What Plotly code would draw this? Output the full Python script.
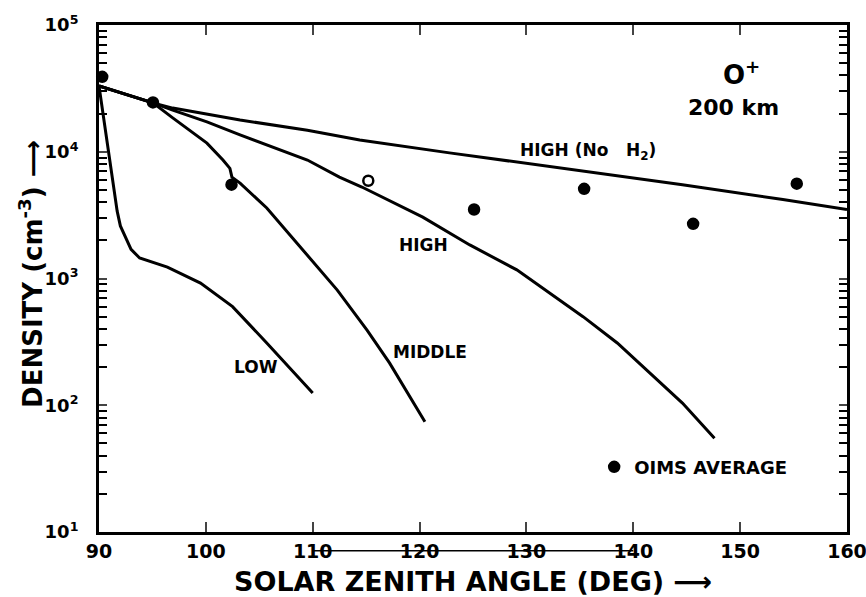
import math
import plotly.graph_objects as go

# ---- data ----
high_noh2_x = [90, 95.05, 96.9, 103.2, 109.5, 114.4, 122.8, 132.2, 144.6, 154, 160]
high_noh2_y = [3.3e4, 2.43e4, 2.21e4, 1.78e4, 1.48e4, 1.24e4, 9.8e3, 7.6e3, 5.5e3, 4.2e3, 3.5e3]

high_x = [90, 95.05, 96.9, 100.1, 103.2, 106.3, 109.5, 112.5, 114.6, 120.3, 124.7, 129.1, 132.2, 135.3, 138.5, 141.5, 144.6, 147.6]
high_y = [3.3e4, 2.43e4, 2.13e4, 1.72e4, 1.36e4, 1.09e4, 8.6e3, 6.3e3, 5.27e3, 3.05e3, 1.84e3, 1.17e3, 770, 500, 310, 180, 104, 55]

middle_x = [90, 95.05, 96.9, 100.1, 101.6, 102.25, 102.44, 103.2, 105.7, 109.1, 112.3, 115.1, 117.2, 120.5]
middle_y = [3.3e4, 2.43e4, 1.85e4, 1.17e4, 8.6e3, 7.4e3, 6.3e3, 5.66e3, 3.6e3, 1.68e3, 810, 390, 215, 74]

low_x = [90, 91.7, 92, 93, 93.8, 96.4, 99.5, 102.5, 105.7, 110]
low_y = [3.3e4, 3.4e3, 2.6e3, 1.7e3, 1.45e3, 1.23e3, 920, 600, 310, 125]

oims_x = [90.3, 95.05, 102.4, 115.2, 125.1, 135.4, 145.6, 155.3]
oims_y = [3.9e4, 2.45e4, 5.5e3, 5.9e3, 3.5e3, 5.1e3, 2.7e3, 5.6e3]
oims_symbol = ["circle", "circle", "circle", "circle-open", "circle", "circle", "circle", "circle"]

x_ticks = [90, 100, 110, 120, 130, 140, 150, 160]
y_decades = [10, 100, 1000, 10000, 100000]
y_decade_labels = ["10<sup>1</sup>", "10<sup>2</sup>", "10<sup>3</sup>", "10<sup>4</sup>", "10<sup>5</sup>"]
y_minor_multipliers = [2, 3, 4, 5, 6, 7, 8, 9]

curve_labels = [
    ("HIGH (No   H<sub>2</sub>)", 135.8, 1.01e4),
    ("HIGH", 120.4, 1.84e3),
    ("MIDDLE", 121.0, 263),
    ("LOW", 104.7, 200),
]
panel_labels = [
    ("O<sup>+</sup>", 150.1, 4.2e4, 26),
    ("200 km", 149.4, 2.25e4, 22),
]

# minor tick positions (2..9 within each decade)
y_minor = [d * m for d in y_decades[:-1] for m in y_minor_multipliers]

FONT = "DejaVu Sans"
LW = 3

fig = go.Figure()
for xs, ys in [(high_noh2_x, high_noh2_y), (high_x, high_y), (middle_x, middle_y), (low_x, low_y)]:
    fig.add_trace(go.Scatter(x=xs, y=ys, mode="lines", line=dict(color="black", width=LW),
                             showlegend=False, hoverinfo="skip"))

fig.add_trace(go.Scatter(x=oims_x, y=oims_y, mode="markers", name="OIMS AVERAGE",
                         marker=dict(color="black", size=10, symbol=oims_symbol,
                                     line=dict(color="black", width=2.5)),
                         showlegend=True, cliponaxis=False))

for text, x, y in curve_labels:
    fig.add_annotation(x=x, y=math.log10(y), xref="x", yref="y", text=text, showarrow=False,
                       font=dict(family=FONT, size=17, color="black", weight="bold"))
for text, x, y, sz in panel_labels:
    fig.add_annotation(x=x, y=math.log10(y), xref="x", yref="y", text=text, showarrow=False,
                       font=dict(family=FONT, size=sz, color="black", weight="bold"))

# axis titles
fig.add_annotation(x=0.5, y=-0.0986, xref="paper", yref="paper", xanchor="center", yanchor="middle",
                   text="SOLAR ZENITH ANGLE (DEG) ⟶", showarrow=False,
                   font=dict(family=FONT, size=27, color="black", weight="bold"))
fig.add_annotation(x=-0.0909, y=0.509, xref="paper", yref="paper", xanchor="center", yanchor="middle",
                   text="DENSITY (cm<sup>-3</sup>) ⟶", textangle=-90, showarrow=False,
                   font=dict(family=FONT, size=26, color="black", weight="bold"))

# scanning artefact line through the x tick labels
fig.add_shape(type="line", xref="x", yref="paper", x0=110, x1=140, y0=-0.037, y1=-0.037,
              line=dict(color="black", width=1.5))

fig.update_layout(
    width=866, height=597,
    margin=dict(l=99, r=19, t=25, b=65, autoexpand=False),
    paper_bgcolor="white", plot_bgcolor="white",
    font=dict(family=FONT, color="black"),
    legend=dict(x=0.662, y=0.128, xanchor="left", yanchor="middle",
                bgcolor="rgba(0,0,0,0)", font=dict(family=FONT, size=18, weight="bold"),
                itemwidth=30),
)

fig.update_xaxes(
    range=[90, 160], tickvals=x_ticks, ticks="inside", ticklen=10, tickwidth=2,
    showline=True, linecolor="black", linewidth=LW, mirror="ticks", showgrid=False,
    zeroline=False, automargin=False, ticklabeloverflow="allow",
    tickfont=dict(family=FONT, size=19, weight="bold"),
)
fig.update_yaxes(
    type="log", range=[1, 5], tickvals=y_decades, ticktext=y_decade_labels,
    ticks="inside", ticklen=8, tickwidth=2, ticklabelstandoff=14,
    minor=dict(tickmode="array", tickvals=y_minor, ticks="inside", ticklen=8, tickwidth=2,
               tickcolor="black", showgrid=False),
    showline=True, linecolor="black", linewidth=LW, mirror="ticks", showgrid=False,
    zeroline=False, automargin=False, ticklabeloverflow="allow",
    tickfont=dict(family=FONT, size=18, weight="bold"),
)

fig.write_html("out.html")
